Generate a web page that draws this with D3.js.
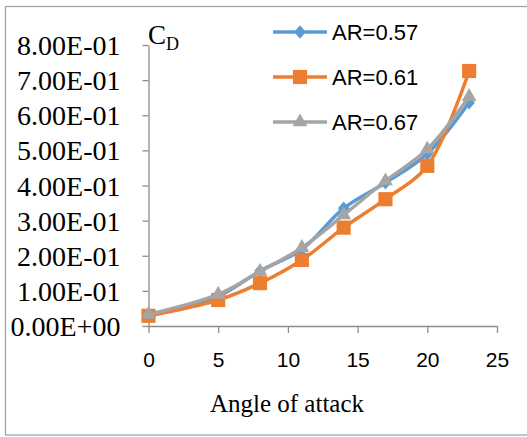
<!DOCTYPE html>
<html>
<head>
<meta charset="utf-8">
<script src="https://cdn.jsdelivr.net/npm/d3@7"></script>
<style>
  body { margin: 0; background: #fff; }
  svg { display: block; }
</style>
</head>
<body>
<svg id="chart" width="527" height="437"></svg>
<script>
const angles = [0, 5, 8, 11, 14, 17, 20, 23];
const ar057 = [0.031, 0.085, 0.157, 0.218, 0.335, 0.408, 0.490, 0.636];
const ar061 = [0.029, 0.074, 0.122, 0.188, 0.280, 0.361, 0.456, 0.726];
const ar067 = [0.033, 0.090, 0.155, 0.223, 0.316, 0.413, 0.503, 0.653];
const seriesNames = ["AR=0.57", "AR=0.61", "AR=0.67"];
const xTicks = [0, 5, 10, 15, 20, 25];
const yTicks = [0, 0.1, 0.2, 0.3, 0.4, 0.5, 0.6, 0.7, 0.8];
const yTickLabels = ["0.00E+00", "1.00E-01", "2.00E-01", "3.00E-01", "4.00E-01",
                     "5.00E-01", "6.00E-01", "7.00E-01", "8.00E-01"];

const colors = ["#5B9BD5", "#ED7D31", "#A5A5A5"];
const diamond = { draw(ctx, size) { const w = 5.8, h = 6.8;
  ctx.moveTo(0, -h); ctx.lineTo(w, 0); ctx.lineTo(0, h); ctx.lineTo(-w, 0); ctx.closePath(); } };
const symbols = [diamond, d3.symbolSquare, d3.symbolTriangle];
const symSizes = [100, 200, 95];

const svg = d3.select("#chart");

// outer border
svg.append("rect").attr("x", 5.5).attr("y", 6.5).attr("width", 530).attr("height", 428.5)
  .attr("fill", "#fff").attr("stroke", "#A6A6A6").attr("stroke-width", 1.3);

const x = d3.scaleLinear().domain([0, 25]).range([148.5, 497]);
const y = d3.scaleLinear().domain([0, 0.8]).range([326, 45]);

const axisColor = "#8C8C8C";

// Y axis
const yAxis = svg.append("g").attr("transform", "translate(148.5,0)")
  .call(d3.axisLeft(y).tickValues(yTicks).tickSize(6).tickSizeOuter(0).tickPadding(22)
    .tickFormat((d, i) => yTickLabels[i]));
yAxis.selectAll("path, line").attr("stroke", axisColor).attr("stroke-width", 1.3);
yAxis.selectAll("text").attr("font-family", "'Liberation Serif', 'Times New Roman', serif")
  .attr("font-size", 28).attr("fill", "#000").attr("dy", "0.34em");

// X axis
const xAxis = svg.append("g").attr("transform", "translate(0,326)")
  .call(d3.axisBottom(x).tickValues(xTicks).tickSize(7).tickSizeOuter(0).tickPadding(19)
    .tickFormat(d3.format("d")));
xAxis.selectAll("path, line").attr("stroke", axisColor).attr("stroke-width", 1.3);
xAxis.selectAll("text").attr("font-family", "'Liberation Sans', Arial, sans-serif")
  .attr("font-size", 21).attr("fill", "#000");

// Axis titles
const cd = svg.append("text").attr("x", 148).attr("y", 44)
  .attr("font-family", "'Liberation Serif', 'Times New Roman', serif")
  .attr("font-size", 27).attr("fill", "#000");
cd.append("tspan").text("C");
cd.append("tspan").attr("font-size", 18).attr("dy", 6).text("D");

svg.append("text").attr("x", 287).attr("y", 412).attr("text-anchor", "middle")
  .attr("font-family", "'Liberation Serif', 'Times New Roman', serif")
  .attr("font-size", 25).attr("fill", "#000").text("Angle of attack");

// Series
const allSeries = [ar057, ar061, ar067];
const line = d3.line().x(d => x(d[0])).y(d => y(d[1])).curve(d3.curveCatmullRom.alpha(0.5));

allSeries.forEach((vals, si) => {
  const pts = angles.map((a, i) => [a, vals[i]]);
  svg.append("path").datum(pts).attr("d", line)
    .attr("fill", "none").attr("stroke", colors[si]).attr("stroke-width", 3.5)
    .attr("stroke-linejoin", "round").attr("stroke-linecap", "round");
  svg.append("g").selectAll("path").data(pts).join("path")
    .attr("transform", d => `translate(${x(d[0])},${y(d[1])})`)
    .attr("d", d3.symbol().type(symbols[si]).size(symSizes[si]))
    .attr("fill", colors[si]);
});

// Legend
const legendY = [32, 77, 122];
seriesNames.forEach((name, si) => {
  const g = svg.append("g").attr("transform", `translate(0,${legendY[si]})`);
  g.append("line").attr("x1", 273).attr("x2", 327).attr("y1", 0).attr("y2", 0)
    .attr("stroke", colors[si]).attr("stroke-width", 3.5);
  g.append("path").attr("transform", "translate(300,0)")
    .attr("d", d3.symbol().type(symbols[si]).size(symSizes[si])).attr("fill", colors[si]);
  g.append("text").attr("x", 332).attr("y", 0).attr("dy", "0.35em")
    .attr("font-family", "'Liberation Sans', Arial, sans-serif")
    .attr("font-size", 22).attr("fill", "#000").text(name);
});
</script>
</body>
</html>
